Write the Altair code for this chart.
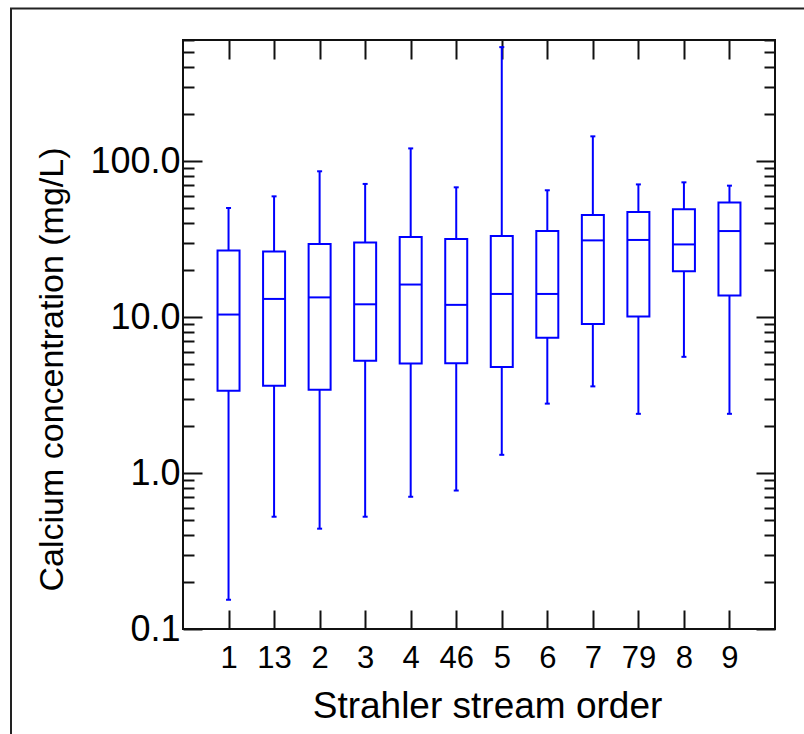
import altair as alt
import pandas as pd

# ---- data ----
orders = ["1", "13", "2", "3", "4", "46", "5", "6", "7", "79", "8", "9"]
whisker_low = [0.154, 0.525, 0.44, 0.525, 0.705, 0.773, 1.31, 2.79, 3.60, 2.40, 5.57, 2.40]
q1 = [3.37, 3.63, 3.43, 5.26, 5.04, 5.06, 4.79, 7.38, 9.03, 10.1, 19.7, 13.8]
median = [10.4, 13.1, 13.4, 12.1, 16.2, 12.0, 14.1, 14.1, 31.1, 31.3, 29.3, 35.7]
q3 = [26.8, 26.4, 29.5, 30.2, 32.7, 31.8, 33.2, 35.7, 45.3, 47.3, 49.2, 54.5]
whisker_high = [50.2, 59.6, 86.3, 71.6, 121, 68.1, 540, 65.2, 144.6, 71.1, 73.3, 69.8]

y_major = [0.1, 1, 10, 100]
y_minor = [0.2, 0.3, 0.4, 0.5, 0.6, 0.7, 0.8, 0.9,
           2, 3, 4, 5, 6, 7, 8, 9,
           20, 30, 40, 50, 60, 70, 80, 90,
           200, 300, 400, 500, 600]
y_domain = [0.1, 600]

df = pd.DataFrame({
    "order": orders,
    "wlo": whisker_low,
    "q1": q1,
    "med": median,
    "q3": q3,
    "whi": whisker_high,
})

W, H = 592, 589
BLUE = "#0000ff"
INK = "#111111"
FONT = "Liberation Sans"

xs = alt.Scale(type="point", padding=1, domain=orders)
ys = alt.Scale(type="log", domain=y_domain, nice=False)


def tick_axis(orient, offset, values=None, size=19):
    kw = dict(orient=orient, offset=offset, labels=False, domain=False, grid=False,
              ticks=True, tickSize=size, tickWidth=2, tickColor=INK, title=None)
    if values is not None:
        kw["values"] = values
    return alt.Axis(**kw)


base = alt.Chart(df)

whiskers = base.mark_rule(color=BLUE, strokeWidth=2).encode(
    x=alt.X("order:N", scale=xs,
            axis=alt.Axis(orient="bottom", ticks=False, tickSize=0, domain=False, grid=False,
                          labelFontSize=31, labelFont=FONT, labelColor="black", labelPadding=14,
                          labelAngle=0,
                          title="Strahler stream order", titleFontSize=37, titleFont=FONT,
                          titleFontWeight="normal", titleColor="black",
                          titleX=304, titleY=88, titleAlign="center",
                          titleBaseline="alphabetic")),
    y=alt.Y("wlo:Q", scale=ys,
            axis=alt.Axis(orient="left", values=y_major, format=".1f", ticks=False, tickSize=0,
                          domain=False, grid=False, labelFontSize=36, labelFont=FONT,
                          labelColor="black", labelPadding=3,
                          title="Calcium concentration (mg/L)", titleFontSize=34,
                          titleFont=FONT, titleFontWeight="normal", titleColor="black",
                          titleAngle=270, titleX=-121, titleY=329, titleAlign="center",
                          titleBaseline="alphabetic")),
    y2="whi:Q",
)

boxes = base.mark_bar(size=22, fill="white", stroke=BLUE, strokeWidth=2).encode(
    x=alt.X("order:N", scale=xs, axis=tick_axis("top", -H)),
    y=alt.Y("q1:Q", scale=ys, axis=tick_axis("right", -W, y_major, 19)),
    y2="q3:Q",
)

medians = base.mark_tick(size=22, thickness=2, color=BLUE, opacity=1).encode(
    x=alt.X("order:N", scale=xs, axis=tick_axis("bottom", -H)),
    y=alt.Y("med:Q", scale=ys, axis=tick_axis("left", -W, y_major, 19)),
)

caps_low = base.mark_tick(size=5, thickness=2, color=BLUE, opacity=1).encode(
    x=alt.X("order:N", scale=xs, axis=None),
    y=alt.Y("wlo:Q", scale=ys, axis=tick_axis("right", -W, y_minor, 11)),
)

caps_high = base.mark_tick(size=5, thickness=2, color=BLUE, opacity=1).encode(
    x=alt.X("order:N", scale=xs, axis=None),
    y=alt.Y("whi:Q", scale=ys, axis=tick_axis("left", -W, y_minor, 11)),
)

frame = alt.Chart(pd.DataFrame({"f": [0]})).mark_rect(
    fillOpacity=0, stroke="#222222", strokeWidth=2
).encode(
    x=alt.value(-172), x2=alt.value(W + 200),
    y=alt.value(-31.5), y2=alt.value(H + 300),
)

chart = alt.layer(frame, whiskers, boxes, medians, caps_low, caps_high).resolve_axis(
    x="independent", y="independent"
).properties(
    width=W, height=H,
    autosize=alt.AutoSizeParams(type="none"),
    padding={"left": 183, "top": 40, "right": 29, "bottom": 105},
    background="white",
).configure_view(
    stroke=INK, strokeWidth=2
)

chart.save("out.html", embed_options={"renderer": "svg", "actions": False})
